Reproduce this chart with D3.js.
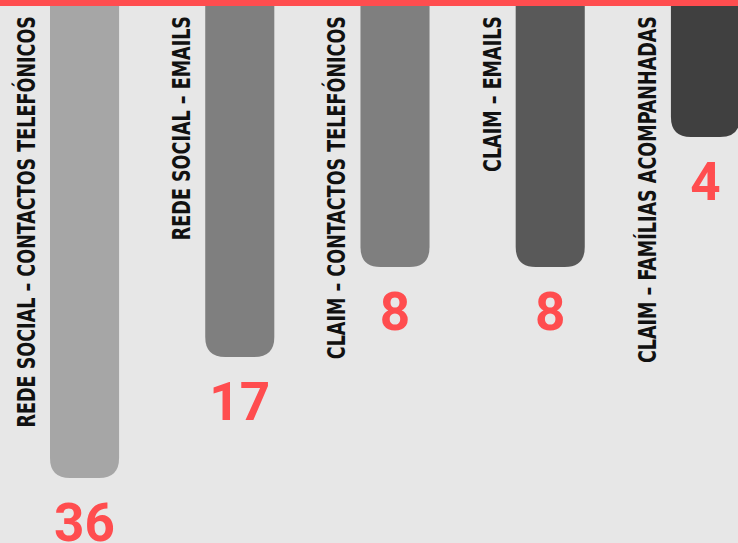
<!DOCTYPE html>
<html>
<head>
<meta charset="utf-8">
<script src="https://cdn.jsdelivr.net/npm/d3@7"></script>
<style>
  html, body { margin: 0; padding: 0; background: #e7e7e7; }
  svg { display: block; }
</style>
</head>
<body>
<svg id="chart" width="738" height="543"></svg>
<script>
// ---- data ----
const categories = [
  "REDE SOCIAL – CONTACTOS TELEFÓNICOS",
  "REDE SOCIAL – EMAILS",
  "CLAIM – CONTACTOS TELEFÓNICOS",
  "CLAIM – EMAILS",
  "CLAIM – FAMÍLIAS ACOMPANHADAS"
];
const values = [36, 17, 8, 8, 4];
const barColors = ["#a6a6a6", "#7f7f7f", "#7f7f7f", "#595959", "#404040"];

// ---- layout ----
const W = 738, H = 543;
const svg = d3.select("#chart");
svg.append("rect").attr("width", W).attr("height", H).attr("fill", "#e7e7e7");

const x = d3.scaleBand()
  .domain(categories)
  .range([50, 740])
  .paddingInner(0.555)
  .paddingOuter(0);

// infographic bars are not proportional: polylinear value -> length scale
const y = d3.scaleLinear()
  .domain([0, 4, 8, 17, 36])
  .range([0, 137, 267, 357, 478]);

const r = 20;
function barPath(x0, w, h) {
  return `M${x0},0 H${x0 + w} V${h - r} Q${x0 + w},${h} ${x0 + w - r},${h} H${x0 + r} Q${x0},${h} ${x0},${h - r} Z`;
}

const g = svg.append("g");
categories.forEach((c, i) => {
  const bx = x(c), bw = x.bandwidth(), bh = y(values[i]);
  g.append("path")
    .attr("d", barPath(bx, bw, bh))
    .attr("fill", barColors[i]);

  const t = g.append("text")
    .attr("transform", `translate(${bx - 15},16) rotate(-90)`)
    .attr("text-anchor", "end")
    .attr("font-family", "'DejaVu Sans Condensed', 'DejaVu Sans', sans-serif")
    .attr("font-stretch", "condensed")
    .attr("font-weight", "bold")
    .attr("font-size", 25)
    .attr("fill", "#111")
    .text(c);
  // squeeze to the condensed width of the reference typeface
  const natural = t.node().getComputedTextLength();
  t.attr("textLength", natural * 0.78).attr("lengthAdjust", "spacingAndGlyphs");

  g.append("text")
    .attr("x", bx + bw / 2)
    .attr("y", bh + 63)
    .attr("text-anchor", "middle")
    .attr("font-family", "Roboto, 'Liberation Sans', sans-serif")
    .attr("font-weight", "bold")
    .attr("font-size", 53)
    .attr("fill", "#ff4d4f")
    .text(values[i]);
});

svg.append("rect").attr("x", 0).attr("y", 0).attr("width", W).attr("height", 6).attr("fill", "#ff4d4f");
</script>
</body>
</html>
